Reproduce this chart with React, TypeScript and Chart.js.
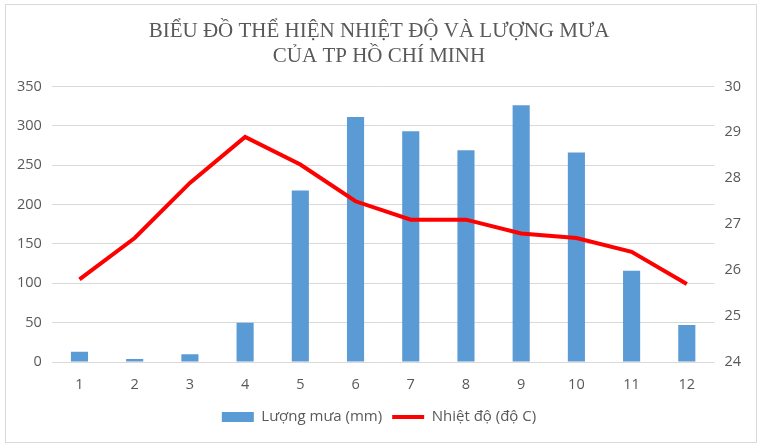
import { useRef, useEffect } from "react";
import { Chart, registerables } from "chart.js";

Chart.register(...registerables);

const months = ["1", "2", "3", "4", "5", "6", "7", "8", "9", "10", "11", "12"];
const rainfall = [13, 4, 10, 50, 218, 311, 293, 269, 326, 266, 116, 47];
const temperature = [25.8, 26.7, 27.9, 28.9, 28.3, 27.5, 27.1, 27.1, 26.8, 26.7, 26.4, 25.7];
const titleLines = ["BIỂU ĐỒ THỂ HIỆN NHIỆT ĐỘ VÀ LƯỢNG MƯA", "CỦA TP HỒ CHÍ MINH"];

const TEXT = "#595959";
const GRID = "#D9D9D9";
const TICK_FONT = { family: "'Open Sans', sans-serif", size: 14.5 };

export default function App() {
  const canvasRef = useRef<HTMLCanvasElement>(null);
  const chartRef = useRef<Chart | null>(null);

  useEffect(() => {
    document.body.style.margin = "0";
    if (!canvasRef.current) return;
    if (chartRef.current) chartRef.current.destroy();

    chartRef.current = new Chart(canvasRef.current, {
      type: "bar",
      data: {
        labels: months,
        datasets: [
          {
            type: "bar",
            label: "Lượng mưa (mm)",
            data: rainfall,
            backgroundColor: "#5B9BD5",
            borderWidth: 0,
            barPercentage: 0.31,
            categoryPercentage: 1,
            yAxisID: "y",
            order: 1,
          },
          {
            type: "line",
            label: "Nhiệt độ (độ C)",
            data: temperature,
            borderColor: "#FF0000",
            backgroundColor: "#FF0000",
            borderWidth: 4,
            pointRadius: 0,
            tension: 0,
            yAxisID: "y1",
            order: 0,
          },
        ] as any,
      },
      options: {
        animation: false,
        responsive: false,
        layout: { padding: { left: 7, right: 9, top: 4, bottom: 12.5 } },
        plugins: {
          title: {
            display: true,
            text: titleLines,
            color: TEXT,
            font: { family: "'Liberation Serif', serif", size: 21, weight: "normal", lineHeight: 1.2 },
            padding: { top: 15, bottom: 17 },
          },
          legend: {
            position: "bottom",
            labels: {
              color: TEXT,
              font: { family: "'Open Sans', sans-serif", size: 15 },
              usePointStyle: true,
              pointStyleWidth: 32,
              boxHeight: 10,
              padding: 10,
              generateLabels: (chart: Chart) =>
                Chart.defaults.plugins.legend.labels
                  .generateLabels(chart)
                  .sort((a: any, b: any) => a.datasetIndex - b.datasetIndex)
                  .map((item: any) => ({
                    ...item,
                    pointStyle: item.datasetIndex === 0 ? "rect" : "line",
                    lineWidth: item.datasetIndex === 0 ? 0 : 4,
                  })),
            },
          },
          tooltip: { enabled: false },
        },
        scales: {
          x: {
            grid: { display: false },
            border: { display: false },
            ticks: { color: TEXT, font: TICK_FONT, padding: 6 },
          },
          y: {
            position: "left",
            min: 0,
            max: 350,
            ticks: { stepSize: 50, color: TEXT, font: TICK_FONT, padding: 10 },
            grid: { color: GRID, drawTicks: false },
            border: { display: false },
          },
          y1: {
            position: "right",
            min: 24,
            max: 30,
            ticks: { stepSize: 1, color: TEXT, font: TICK_FONT, padding: 10 },
            grid: { drawOnChartArea: false, drawTicks: false },
            border: { display: false },
          },
        },
      } as any,
    });

    return () => {
      if (chartRef.current) {
        chartRef.current.destroy();
        chartRef.current = null;
      }
    };
  }, []);

  return (
    <div style={{ position: "relative", width: 760, height: 447, background: "#fff" }}>
      <canvas ref={canvasRef} width={760} height={447} style={{ position: "absolute", left: 0, top: 0 }} />
      <div
        style={{
          position: "absolute",
          left: 5,
          top: 4,
          width: 750,
          height: 437,
          border: `1px solid ${GRID}`,
          pointerEvents: "none",
        }}
      />
    </div>
  );
}
